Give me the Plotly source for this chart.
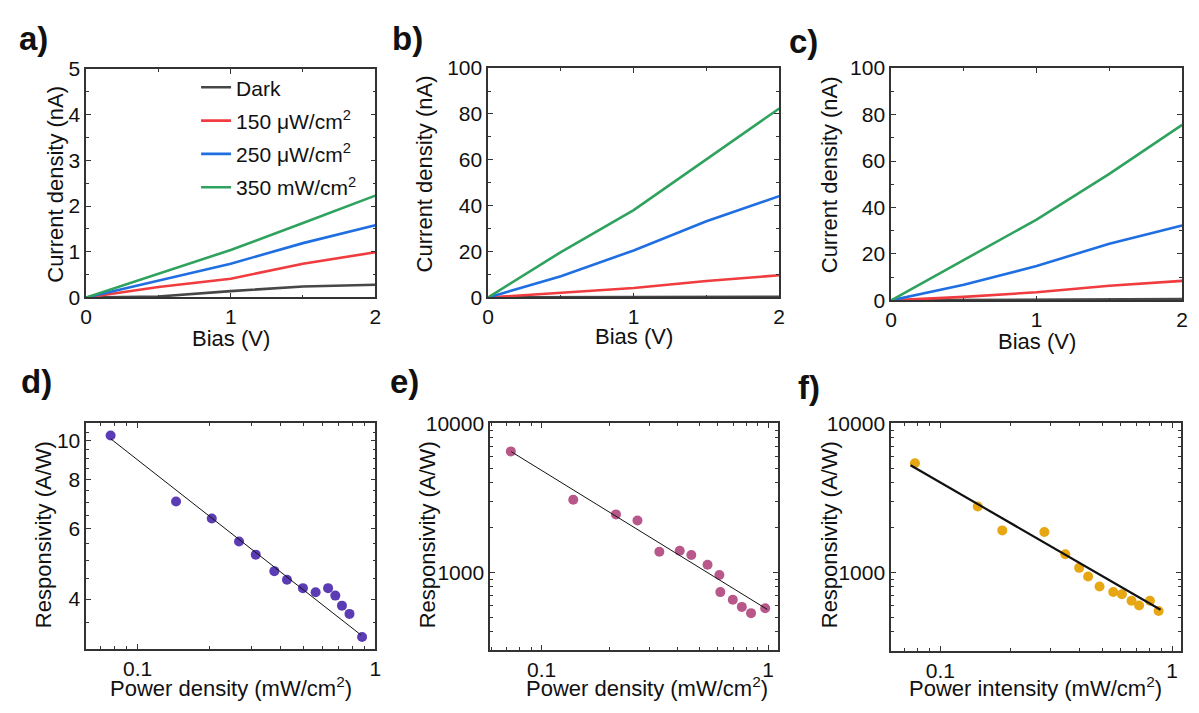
import math
import plotly.graph_objects as go

W, H = 1199, 713

# ---------------- data ----------------
bias = [0, 0.5, 1, 1.5, 2]

a_dark = [0, 0.02, 0.14, 0.24, 0.28]
a_150 = [0, 0.23, 0.41, 0.74, 0.99]
a_250 = [0, 0.37, 0.74, 1.19, 1.58]
a_350 = [0, 0.52, 1.04, 1.63, 2.23]

b_dark = [0, 0.05, 0.15, 0.25, 0.35]
b_150 = [0, 2.0, 4.1, 7.2, 9.7]
b_250 = [0, 9.3, 20.5, 33.2, 44.2]
b_350 = [0, 19.8, 38.1, 60.2, 82.4]

c_dark = [0, 0.1, 0.2, 0.4, 0.6]
c_150 = [0, 1.5, 3.5, 6.3, 8.4]
c_250 = [0, 6.7, 14.8, 24.4, 32.2]
c_350 = [0, 17.5, 34.8, 54.5, 75.6]

legend_names = ["Dark", "150 μW/cm<sup>2</sup>", "250 μW/cm<sup>2</sup>", "350 mW/cm<sup>2</sup>"]

d_power = [0.0769, 0.145, 0.205, 0.267, 0.314, 0.376, 0.425, 0.496, 0.561, 0.633, 0.679, 0.724, 0.779, 0.880]
d_resp = [10.3, 7.03, 6.37, 5.58, 5.17, 4.70, 4.47, 4.26, 4.16, 4.26, 4.08, 3.85, 3.67, 3.21]
d_fit_x = [0.077, 0.87]
d_fit_y = [10.1, 3.25]

e_power = [0.0732, 0.138, 0.213, 0.265, 0.331, 0.407, 0.458, 0.540, 0.609, 0.615, 0.698, 0.765, 0.840, 0.970]
e_resp = [6480, 3070, 2450, 2230, 1376, 1397, 1309, 1127, 961, 738, 655, 587, 533, 575]
e_fit_x = [0.0735, 0.99]
e_fit_y = [6450, 565]

f_power = [0.0777, 0.145, 0.185, 0.281, 0.346, 0.397, 0.434, 0.486, 0.557, 0.607, 0.668, 0.720, 0.802, 0.874]
f_resp = [5390, 2765, 1912, 1864, 1322, 1072, 937, 803, 738, 713, 645, 599, 645, 550]
f_fit_x = [0.0744, 0.891]
f_fit_y = [5230, 561]

# ---------------- styling ----------------
FONT = "Arial, Liberation Sans, Helvetica, sans-serif"
FRAME = "#333333"
line_colors = ["#474747", "#F03C3F", "#1F6FE3", "#2FA25E"]
d_color, e_color, f_color = "#5B3CB4", "#B8578A", "#E7A713"


def px_x(p):
    return p / W


def px_y(p):
    return 1 - p / H


def lin_axis(dom, anchor, rng, dtick, mdtick):
    return dict(domain=dom, anchor=anchor, range=rng, dtick=dtick, tick0=0,
                showline=True, linecolor=FRAME, linewidth=1.5, mirror="allticks",
                ticks="inside", ticklen=5, tickwidth=1, tickcolor=FRAME,
                minor=dict(dtick=mdtick, ticks="inside", ticklen=3, tickcolor=FRAME, tickwidth=1),
                showgrid=False, zeroline=False,
                tickfont=dict(family=FONT, size=21, color="#111"))


def log_axis(dom, anchor, lo, hi, tv, tt, minor_vals):
    return dict(domain=dom, anchor=anchor, type="log", range=[math.log10(lo), math.log10(hi)],
                tickmode="array", tickvals=tv, ticktext=tt,
                showline=True, linecolor=FRAME, linewidth=1.5, mirror="allticks",
                ticks="inside", ticklen=5, tickwidth=1, tickcolor=FRAME,
                minor=dict(tickmode="array", tickvals=minor_vals, ticks="inside", ticklen=3,
                           tickcolor=FRAME, tickwidth=1),
                showgrid=False, zeroline=False,
                tickfont=dict(family=FONT, size=21, color="#111"))


fig = go.Figure()

for idx, (series, xa, ya) in enumerate([
        ([a_dark, a_150, a_250, a_350], "x", "y"),
        ([b_dark, b_150, b_250, b_350], "x2", "y2"),
        ([c_dark, c_150, c_250, c_350], "x3", "y3")]):
    for k, ys in enumerate(series):
        fig.add_trace(go.Scatter(x=bias, y=ys, mode="lines", xaxis=xa, yaxis=ya,
                                 name=legend_names[k], showlegend=(idx == 0),
                                 legendgroup="g%d" % k,
                                 line=dict(color=line_colors[k], width=2.6)))

for (px_, ry, fx, fy, col, xa, ya, lw) in [
        (d_power, d_resp, d_fit_x, d_fit_y, d_color, "x4", "y4", 1.0),
        (e_power, e_resp, e_fit_x, e_fit_y, e_color, "x5", "y5", 1.0),
        (f_power, f_resp, f_fit_x, f_fit_y, f_color, "x6", "y6", 2.2)]:
    fig.add_trace(go.Scatter(x=px_, y=ry, mode="markers", xaxis=xa, yaxis=ya, showlegend=False,
                             marker=dict(size=10, color=col, line=dict(width=0))))
    fig.add_trace(go.Scatter(x=fx, y=fy, mode="lines", xaxis=xa, yaxis=ya, showlegend=False,
                             line=dict(color="#111", width=lw)))

dom = {
    "a": ([px_x(81), px_x(373)], [px_y(295), px_y(59)]),
    "b": ([px_x(487), px_x(781)], [px_y(295), px_y(58)]),
    "c": ([px_x(894), px_x(1188)], [px_y(298), px_y(58)]),
    "d": ([px_x(81), px_x(373)], [px_y(658), px_y(425)]),
    "e": ([px_x(489), px_x(780)], [px_y(659), px_y(425)]),
    "f": ([px_x(894), px_x(1187)], [px_y(660), px_y(425)]),
}

x_minor_log = [0.06, 0.07, 0.08, 0.09, 0.2, 0.3, 0.4, 0.5, 0.6, 0.7, 0.8, 0.9]
layout = dict(
    xaxis=lin_axis(dom["a"][0], "y", [0, 2], 1, 0.5),
    yaxis=lin_axis(dom["a"][1], "x", [0, 5], 1, 0.5),
    xaxis2=lin_axis(dom["b"][0], "y2", [0, 2], 1, 0.5),
    yaxis2=lin_axis(dom["b"][1], "x2", [0, 100], 20, 10),
    xaxis3=lin_axis(dom["c"][0], "y3", [0, 2], 1, 0.5),
    yaxis3=lin_axis(dom["c"][1], "x3", [0, 100], 20, 10),
    xaxis4=log_axis(dom["d"][0], "y4", 0.0607, 1.0, [0.1, 1], ["0.1", "1"], x_minor_log),
    yaxis4=log_axis(dom["d"][1], "x4", 3.0, 11.05, [4, 6, 8, 10], ["4", "6", "8", "10"],
                    [3, 3.5, 4.5, 5, 5.5, 6.5, 7, 7.5, 8.5, 9, 9.5, 10.5, 11]),
    xaxis5=log_axis(dom["e"][0], "y5", 0.0593, 1.107, [0.1, 1], ["0.1", "1"], x_minor_log),
    yaxis5=log_axis(dom["e"][1], "x5", 303, 10000, [1000, 10000], ["1000", "10000"],
                    [400, 500, 600, 700, 800, 900, 2000, 3000, 4000, 5000, 6000, 7000, 8000, 9000]),
    xaxis6=log_axis(dom["f"][0], "y6", 0.0613, 1.093, [0.1, 1], ["0.1", "1"], x_minor_log),
    yaxis6=log_axis(dom["f"][1], "x6", 298, 10000, [1000, 10000], ["1000", "10000"],
                    [300, 400, 500, 600, 700, 800, 900, 2000, 3000, 4000, 5000, 6000, 7000, 8000, 9000]),
)

annotations = []


def ann(text, x, y, size=22, angle=0, bold=False):
    annotations.append(dict(text=("<b>%s</b>" % text) if bold else text,
                            x=px_x(x), y=px_y(y), xref="paper", yref="paper",
                            xanchor="center", yanchor="middle", showarrow=False,
                            textangle=angle, font=dict(family=FONT, size=size, color="#111")))


for lab, x, y in [("a)", 28, 27), ("b)", 406, 27), ("c)", 806, 30),
                  ("d)", 31, 382), ("e)", 403, 382), ("f)", 811, 388)]:
    ann(lab, x, y, size=33, bold=True)

for x, y in [(50, 178), (423, 167), (832, 168)]:
    ann("Current density (nA)", x, y, angle=-90)
for x, y in [(227, 337), (634, 335), (1041, 340)]:
    ann("Bias (V)", x, y)
for x, y in [(38, 540), (426, 540), (832, 540)]:
    ann("Responsivity (A/W)", x, y, angle=-90)
ann("Power density (mW/cm<sup>2</sup>)", 227, 698)
ann("Power density (mW/cm<sup>2</sup>)", 647, 698)
ann("Power intensity (mW/cm<sup>2</sup>)", 1040, 698)

fig.update_layout(
    **layout,
    annotations=annotations,
    width=W, height=H,
    margin=dict(l=0, r=0, t=0, b=0),
    paper_bgcolor="white", plot_bgcolor="white",
    font=dict(family=FONT, size=21, color="#111"),
    legend=dict(x=px_x(192), y=px_y(57), xanchor="left", yanchor="top",
                bgcolor="rgba(0,0,0,0)", borderwidth=0,
                font=dict(family=FONT, size=21, color="#111"),
                itemwidth=30, tracegroupgap=3, traceorder="grouped"),
)

fig.write_html("out.html")
